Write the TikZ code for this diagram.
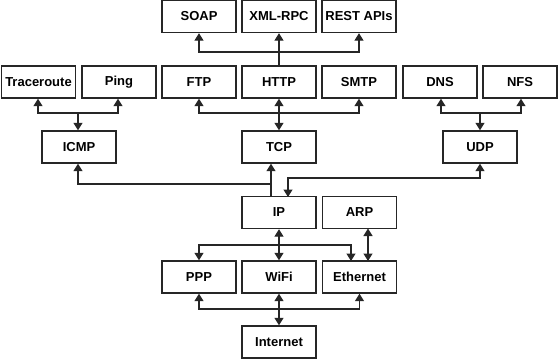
\documentclass[tikz,border=0pt]{standalone}
\usepackage{fontspec}
\setmainfont{Liberation Sans}
\usetikzlibrary{arrows.meta,calc}
\begin{document}
\begin{tikzpicture}[x=1pt,y=-1pt,
  box/.style={draw=black!85,line width=1.4pt,fill=white,minimum width=74pt,
    minimum height=32pt,inner sep=0pt,font=\fontsize{13}{15}\selectfont\bfseries},
  link/.style={draw=black!85,line width=1.3pt},
  arr/.style={link,-{Triangle[width=9pt,length=7.5pt]}},
  arrb/.style={link,{Triangle[width=9pt,length=7.5pt]}-{Triangle[width=9pt,length=7.5pt]}}]
\useasboundingbox (0,0) rectangle (559,359);
% application layer
\node[box] (soap)   at (199,16.5) {SOAP};
\node[box] (xmlrpc) at (279,16.5) {XML-RPC};
\node[box] (rest)   at (359,16.5) {REST APIs};
\node[box] (trace)  at (38.5,82) {Traceroute};
\node[box] (ping)   at (119,82) {Ping};
\node[box] (ftp)    at (199,82) {FTP};
\node[box] (http)   at (279,82) {HTTP};
\node[box] (smtp)   at (359,82) {SMTP};
\node[box] (dns)    at (440,82) {DNS};
\node[box] (nfs)    at (520,82) {NFS};
% transport layer
\node[box] (icmp)   at (79,147) {ICMP};
\node[box] (tcp)    at (279,147) {TCP};
\node[box] (udp)    at (480,147) {UDP};
% network layer
\node[box] (ip)     at (279,212.5) {IP};
\node[box] (arp)    at (359.5,212.5) {ARP};
% link layer
\node[box] (ppp)    at (199,277) {PPP};
\node[box] (wifi)   at (279,277) {WiFi};
\node[box] (eth)    at (359.5,277) {Ethernet};
\node[box] (inet)   at (279,342) {Internet};

% HTTP fans out to the web service protocols
\coordinate (jweb) at (279,52);
\draw[link] (http.north) -- (jweb);
\draw[arr] (jweb) -| (soap.south);
\draw[arr] (jweb) -- (xmlrpc.south);
\draw[arr] (jweb) -| (rest.south);

% ICMP tools
\coordinate (jicmp) at (78,113);
\draw[arr] (jicmp) -| ($(trace.south)+(-0.5,0)$);
\draw[arr] (jicmp) -| ($(ping.south)+(-1,0)$);
\draw[arr] (jicmp) -- (jicmp |- icmp.north);

% TCP applications
\coordinate (jtcp) at (279,113);
\draw[arr] (jtcp) -| (ftp.south);
\draw[arr] (jtcp) -| (smtp.south);
\draw[arrb] (http.south) -- (tcp.north);

% UDP applications
\coordinate (judp) at (480,113);
\draw[arr] (judp) -| ($(dns.south)+(1,0)$);
\draw[arr] (judp) -| ($(nfs.south)+(1,0)$);
\draw[arr] (judp) -- (udp.north);

% IP up to TCP and ICMP
\coordinate (ipl) at (271,197);
\coordinate (jicmp2) at (271,184);
\draw[arr] (ipl) -- (ipl |- tcp.south);
\draw[arr] (jicmp2) -| ($(icmp.south)+(-1,0)$);

% UDP <-> IP
\draw[arrb] (udp.south) |- (288,178) -- (288,197);

% IP down to the link layer
\coordinate (jlink) at (279,245);
\draw[arrb] (ip.south) -- (wifi.north);
\draw[arr] (jlink) -| (ppp.north);
\draw[arr] (jlink) -| (351,261);
\draw[arrb] (368,228.5) -- (368,261);

% link layer down to the Internet
\coordinate (jnet) at (279,309);
\draw[arrb] (wifi.south) -- (inet.north);
\draw[arr] (jnet) -| (ppp.south);
\draw[arr] (jnet) -| (eth.south);
\end{tikzpicture}
\end{document}
